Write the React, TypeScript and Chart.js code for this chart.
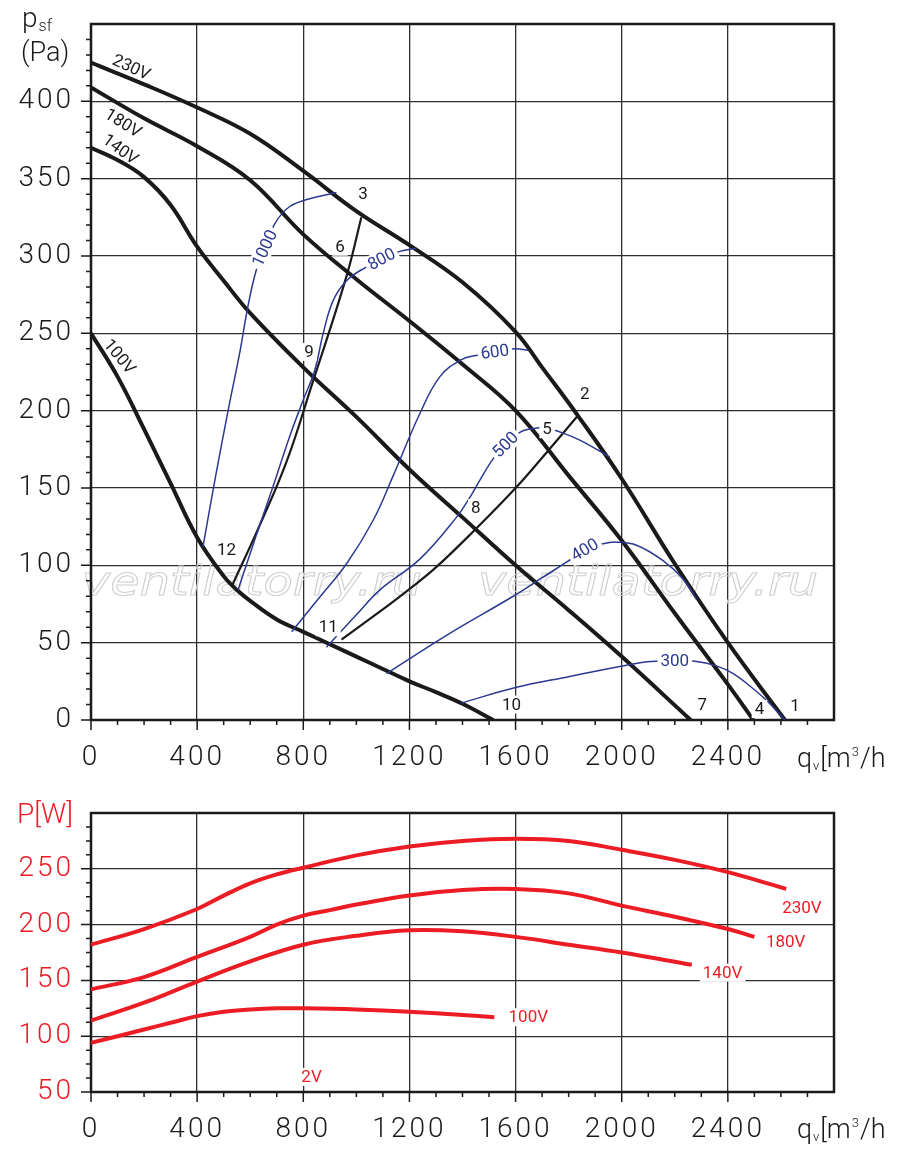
import { useEffect, useRef } from "react";
import { Chart, registerables } from "chart.js";

Chart.register(...registerables);

type Pt = [number, number];

// static pressure curves per supply voltage (qv m3/h, Pa)
const fan230: Pt[] = [[0, 425], [200, 411], [400, 396], [600, 379], [800, 355], [1000, 329], [1200, 307], [1400, 283], [1600, 251], [1700, 228], [1834, 197], [2000, 156], [2200, 101], [2400, 50], [2615, 0]];
const fan180: Pt[] = [[0, 409], [200, 389], [400, 371], [600, 349], [800, 314], [1000, 285], [1200, 258], [1400, 230], [1600, 200], [1800, 158], [2000, 116], [2200, 69], [2400, 23], [2496, 0]];
const fan140: Pt[] = [[0, 370], [100, 362], [200, 351], [300, 333], [400, 306], [500, 284], [600, 263], [800, 228], [1000, 196], [1200, 162], [1400, 131], [1600, 100], [1800, 71], [2000, 41], [2260, 0]];
const fan100: Pt[] = [[0, 250], [100, 222], [200, 188], [300, 153], [400, 118], [500, 93], [550, 84], [600, 77], [700, 65], [800, 57], [900, 49], [1000, 41], [1100, 33], [1200, 25], [1300, 18], [1400, 10.5], [1516, 0]];

// system curves 3-6-9-12 and 2-5-8-11
const sysA: Pt[] = [[532, 87], [636, 126], [737, 167], [831, 216], [963, 287], [1019, 325]];
const sysB: Pt[] = [[944, 52], [1088, 70], [1195, 84], [1302, 99], [1447, 123], [1600, 150], [1717, 173], [1836, 197]];

// iso lines (blue)
const iso1000: Pt[] = [[422, 112], [470, 158], [520, 203], [560, 237], [592, 268], [623, 291], [655, 305], [693, 321], [749, 332], [824, 337], [925, 341]];
const iso800: Pt[] = [[554, 84], [620, 118], [686, 151], [750, 184], [800, 207], [843, 226], [875, 250], [912, 271], [963, 284], [1038, 293], [1095, 298], [1164, 303], [1227, 305]];
const iso600: Pt[] = [[756, 57], [860, 79], [963, 101], [1063, 129], [1139, 158], [1239, 198], [1315, 222], [1396, 233], [1460, 236], [1522, 238], [1597, 240], [1648, 239]];
const iso500: Pt[] = [[887, 47], [1000, 68], [1088, 84], [1239, 104], [1377, 131], [1428, 144], [1465, 155], [1516, 169], [1562, 178], [1616, 186], [1648, 188], [1717, 189], [1754, 187], [1842, 181], [1955, 170]];
const iso400: Pt[] = [[1114, 30], [1352, 56], [1591, 80], [1700, 92], [1792, 102], [1861, 110], [1930, 114], [1981, 115], [2056, 113], [2156, 103], [2232, 91], [2282, 78]];
const iso300: Pt[] = [[1396, 11], [1600, 21], [1800, 28], [2069, 37], [2131, 38], [2200, 38], [2276, 38], [2357, 35], [2420, 30], [2483, 22], [2550, 12], [2615, 0]];

// power input curves (qv m3/h, W)
const pw230: Pt[] = [[0, 182], [200, 196], [400, 214], [500, 226], [600, 237], [700, 245], [800, 251], [1000, 262], [1200, 270], [1400, 275], [1600, 277], [1800, 275], [2000, 267], [2200, 258], [2400, 247], [2620, 232]];
const pw180: Pt[] = [[0, 142], [200, 153], [400, 171], [600, 189], [700, 200], [800, 208], [900, 213], [1000, 218], [1200, 226], [1400, 231], [1600, 232], [1800, 228], [2000, 217], [2200, 207], [2400, 196], [2500, 189]];
const pw140: Pt[] = [[0, 114], [200, 130], [400, 149], [600, 167], [800, 182], [1000, 190], [1200, 195], [1400, 194], [1600, 189], [1800, 182], [2000, 175], [2264, 164]];
const pw100: Pt[] = [[0, 94], [200, 106], [300, 112], [400, 118], [500, 122], [600, 124], [700, 125], [800, 125], [1000, 124], [1200, 122], [1400, 119], [1520, 117]];

const BLACK = "#1a1a1a";
const BLUE = "#2b3990";
const RED = "#ec1c24";
const GRID = "#2e2e2e";
const FONT = "Roboto, 'DejaVu Sans', sans-serif";
const MARK = "ventilatorry.ru";

type Note = { t: string; x: number; y: number; a?: number; c: string; bg?: boolean };

const topNotes: Note[] = [
  { t: "230V", x: 152, y: 422, a: 25, c: BLACK },
  { t: "180V", x: 121, y: 386, a: 32, c: BLACK },
  { t: "140V", x: 111, y: 369, a: 36, c: BLACK },
  { t: "100V", x: 108, y: 235, a: 50, c: BLACK },
  { t: "1000", x: 655, y: 305, a: -65, c: BLUE, bg: true },
  { t: "800", x: 1095, y: 298, a: -28, c: BLUE, bg: true },
  { t: "600", x: 1522, y: 238, a: -8, c: BLUE, bg: true },
  { t: "500", x: 1562, y: 178, a: -45, c: BLUE, bg: true },
  { t: "400", x: 1861, y: 110, a: -30, c: BLUE, bg: true },
  { t: "300", x: 2200, y: 38, a: 0, c: BLUE, bg: true },
  { t: "1", x: 2653, y: 9, c: BLACK, bg: true },
  { t: "4", x: 2519, y: 7, c: BLACK, bg: true },
  { t: "7", x: 2304, y: 10, c: BLACK, bg: true },
  { t: "10", x: 1585, y: 10, c: BLACK, bg: true },
  { t: "2", x: 1861, y: 211, c: BLACK, bg: true },
  { t: "5", x: 1719, y: 188, c: BLACK, bg: true },
  { t: "8", x: 1450, y: 137, c: BLACK, bg: true },
  { t: "11", x: 894, y: 60, c: BLACK, bg: true },
  { t: "3", x: 1025, y: 340, c: BLACK, bg: true },
  { t: "6", x: 938, y: 306, c: BLACK, bg: true },
  { t: "9", x: 822, y: 238, c: BLACK, bg: true },
  { t: "12", x: 511, y: 110, c: BLACK, bg: true },
];

const bottomNotes: Note[] = [
  { t: "230V", x: 2679, y: 215, c: RED, bg: true },
  { t: "180V", x: 2618, y: 185, c: RED, bg: true },
  { t: "140V", x: 2380, y: 157, c: RED, bg: true },
  { t: "100V", x: 1648, y: 117, c: RED, bg: true },
  { t: "2V", x: 831, y: 63.5, c: RED, bg: true },
];

const toXY = (d: Pt[]) => d.map(([x, y]) => ({ x, y }));

const line = (d: Pt[], color: string, width: number) => ({
  data: toXY(d),
  showLine: true,
  borderColor: color,
  borderWidth: width,
  pointRadius: 0,
  fill: false,
  tension: 0.4,
  borderCapStyle: "butt" as const,
});

// draws text pieces with their own size and baseline shift
function pieces(ctx: CanvasRenderingContext2D, parts: [string, number, number][], x: number, y: number, color: string) {
  ctx.save();
  ctx.fillStyle = color;
  ctx.textBaseline = "alphabetic";
  ctx.textAlign = "left";
  let cx = x;
  for (const [t, size, dy] of parts) {
    ctx.font = `300 ${size}px ${FONT}`;
    ctx.fillText(t, cx, y + dy);
    cx += ctx.measureText(t).width + 1;
  }
  ctx.restore();
}

function decor(opts: { yMinor: number; yMajor: number; notes: Note[]; titles: (ctx: CanvasRenderingContext2D) => void; mark?: boolean }) {
  return {
    id: "decor",
    beforeDraw(chart: any) {
      chart.ctx.letterSpacing = "3px";
    },
    beforeDatasetsDraw(chart: any) {
      const { ctx, chartArea: a, scales } = chart;
      ctx.letterSpacing = "0px";
      const xs = scales.x;
      const ys = scales.y;
      ctx.save();
      if (opts.mark) {
        ctx.font = `italic 40px 'DejaVu Sans', sans-serif`;
        const w = ctx.measureText(MARK).width;
        for (const left of [82, 478]) {
          ctx.save();
          ctx.translate(left, 595);
          ctx.scale(340 / w, 1);
          ctx.strokeStyle = "#cfcfcf";
          ctx.lineWidth = 1;
          ctx.strokeText(MARK, 0, 0);
          ctx.restore();
        }
      }
      ctx.strokeStyle = BLACK;
      ctx.lineWidth = 1.5;
      ctx.beginPath();
      for (let v = xs.min; v < xs.max; v += 100) {
        const px = xs.getPixelForValue(v);
        const len = v % 400 === 0 ? 10 : 5;
        ctx.moveTo(px, a.bottom);
        ctx.lineTo(px, a.bottom + len);
      }
      for (let v = ys.min; v < ys.max; v += opts.yMinor) {
        const py = ys.getPixelForValue(v);
        const len = v % opts.yMajor === 0 ? 10 : 5;
        ctx.moveTo(a.left, py);
        ctx.lineTo(a.left - len, py);
      }
      ctx.stroke();
      ctx.lineWidth = 2.5;
      ctx.strokeRect(a.left, a.top, a.right - a.left, a.bottom - a.top);
      ctx.restore();
    },
    afterDatasetsDraw(chart: any) {
      const { ctx, scales } = chart;
      ctx.save();
      ctx.font = `17px ${FONT}`;
      ctx.textAlign = "center";
      ctx.textBaseline = "middle";
      for (const n of opts.notes) {
        const px = scales.x.getPixelForValue(n.x);
        const py = scales.y.getPixelForValue(n.y);
        ctx.save();
        ctx.translate(px, py);
        ctx.rotate(((n.a ?? 0) * Math.PI) / 180);
        const w = ctx.measureText(n.t).width;
        if (n.bg) {
          ctx.fillStyle = "#ffffff";
          ctx.fillRect(-w / 2 - 3, -9, w + 6, 18);
        }
        ctx.fillStyle = n.c;
        ctx.fillText(n.t, 0, 1);
        ctx.restore();
      }
      ctx.restore();
      opts.titles(ctx);
    },
  };
}

const flowTitle = (ctx: CanvasRenderingContext2D, base: number) =>
  pieces(ctx, [["q", 27, 0], ["v", 13, 3], ["[m", 27, 0], ["3", 13, -11], ["/h", 27, 0]], 797, base, BLACK);

const noPad = (s: any) => {
  s.paddingTop = 0;
  s.paddingBottom = 0;
  s.paddingLeft = 0;
  s.paddingRight = 0;
};

function axes(yMin: number, yMax: number, yStep: number, yColor: string, xHeight: number) {
  const tickFont = { family: FONT, size: 28, weight: "300" };
  return {
    x: {
      type: "linear",
      min: 0,
      max: 2800,
      ticks: {
        stepSize: 400,
        autoSkip: false,
        maxRotation: 0,
        padding: 21,
        color: BLACK,
        font: tickFont,
        callback: (v: number) => (v >= 2800 ? "" : String(v)),
      },
      grid: { color: GRID, lineWidth: 1.3, drawTicks: false },
      border: { display: false },
      afterFit: (s: any) => {
        s.height = xHeight;
        noPad(s);
      },
    },
    y: {
      min: yMin,
      max: yMax,
      ticks: {
        stepSize: yStep,
        padding: 17,
        color: yColor,
        font: tickFont,
        callback: (v: number) => (v >= yMax ? "" : String(v)),
      },
      grid: { color: GRID, lineWidth: 1.3, drawTicks: false },
      border: { display: false },
      afterFit: (s: any) => {
        s.width = 91;
        noPad(s);
      },
    },
  };
}

export default function App() {
  const topRef = useRef<HTMLCanvasElement | null>(null);
  const bottomRef = useRef<HTMLCanvasElement | null>(null);

  useEffect(() => {
    if (!topRef.current || !bottomRef.current) return;

    const top = new Chart(topRef.current, {
      type: "scatter",
      data: {
        datasets: [
          line(iso1000, BLUE, 1.5),
          line(iso800, BLUE, 1.5),
          line(iso600, BLUE, 1.5),
          line(iso500, BLUE, 1.5),
          line(iso400, BLUE, 1.5),
          line(iso300, BLUE, 1.5),
          line(sysA, BLACK, 2.2),
          line(sysB, BLACK, 2.2),
          line(fan230, BLACK, 4),
          line(fan180, BLACK, 4),
          line(fan140, BLACK, 4),
          line(fan100, BLACK, 4),
        ] as any,
      },
      options: {
        animation: false,
        responsive: false,
        layout: { padding: { left: 0, top: 24, right: 66, bottom: 0 } },
        plugins: { legend: { display: false }, tooltip: { enabled: false } },
        scales: axes(0, 450, 50, BLACK, 60) as any,
      },
      plugins: [
        decor({
          yMinor: 10,
          yMajor: 50,
          notes: topNotes,
          mark: true,
          titles: (ctx) => {
            pieces(ctx, [["p", 28, 0], ["sf", 16, 4]], 22, 27, BLACK);
            pieces(ctx, [["(Pa)", 27, 0]], 21, 61, BLACK);
            flowTitle(ctx, 767);
          },
        }),
      ],
    });

    const bottom = new Chart(bottomRef.current, {
      type: "scatter",
      data: {
        datasets: [
          line(pw230, RED, 4),
          line(pw180, RED, 4),
          line(pw140, RED, 4),
          line(pw100, RED, 4),
        ] as any,
      },
      options: {
        animation: false,
        responsive: false,
        layout: { padding: { left: 0, top: 33, right: 66, bottom: 0 } },
        plugins: { legend: { display: false }, tooltip: { enabled: false } },
        scales: axes(50, 300, 50, RED, 67) as any,
      },
      plugins: [
        decor({
          yMinor: 12.5,
          yMajor: 50,
          notes: bottomNotes,
          titles: (ctx) => {
            pieces(ctx, [["P[W]", 28, 0]], 17, 43, RED);
            flowTitle(ctx, 358);
          },
        }),
      ],
    });

    return () => {
      top.destroy();
      bottom.destroy();
    };
  }, []);

  return (
    <div style={{ position: "absolute", left: 0, top: 0, width: 900, height: 1159, background: "#fff" }}>
      <canvas ref={topRef} width={900} height={780} style={{ position: "absolute", left: 0, top: 0 }} />
      <canvas ref={bottomRef} width={900} height={379} style={{ position: "absolute", left: 0, top: 780 }} />
    </div>
  );
}
